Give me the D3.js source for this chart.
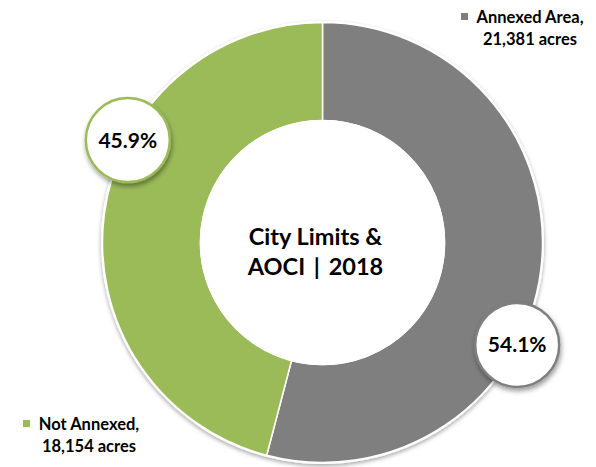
<!DOCTYPE html>
<html>
<head>
<meta charset="utf-8">
<script src="https://cdn.jsdelivr.net/npm/d3@7"></script>
<style>
  body { margin: 0; background: #fff; }
  svg { display: block; font-family: Lato, 'Open Sans', sans-serif; font-weight: bold; }
</style>
</head>
<body>
<svg width="596" height="467"></svg>
<script>
// data
const categories = ['Annexed Area', 'Not Annexed']
const acres = [21381, 18154]
const percents = ['54.1%', '45.9%']
const acreLabels = ['21,381 acres', '18,154 acres']
const colors = ['#7f7f7f', '#9bbb59']
const titleLines = ['City Limits &', 'AOCI | 2018']

let svg = d3.select('svg')
let cx = 322.5, cy = 242.5
let outerR = 220, innerR = 122

let defs = svg.append('defs')
let shadow = defs.append('filter').attr('id', 'shadow')
  .attr('x', '-20%').attr('y', '-20%').attr('width', '140%').attr('height', '140%')
shadow.append('feDropShadow').attr('dx', 0).attr('dy', 2).attr('stdDeviation', 2)
  .attr('flood-color', '#000').attr('flood-opacity', 0.35)
let shadow2 = defs.append('filter').attr('id', 'shadow2')
  .attr('x', '-30%').attr('y', '-30%').attr('width', '160%').attr('height', '160%')
shadow2.append('feDropShadow').attr('dx', 1).attr('dy', 3).attr('stdDeviation', 2.5)
  .attr('flood-color', '#000').attr('flood-opacity', 0.4)

let data = categories.map(function(c, i){
  return { name: c, value: acres[i], pct: percents[i], acres: acreLabels[i], color: colors[i] }
})

let pie = d3.pie().sort(null).value(function(d){ return d.value })
let arc = d3.arc().innerRadius(innerR).outerRadius(outerR)

let g = svg.append('g').attr('transform', 'translate(' + cx + ',' + cy + ')')

// white rim + shadow behind donut
g.append('circle').attr('r', outerR + 1.5).attr('fill', '#fff').attr('filter', 'url(#shadow)')
g.append('circle').attr('r', innerR).attr('fill', '#fff')

g.selectAll('.slice')
  .data(pie(data))
  .enter()
  .append('path')
    .attr('class', 'slice')
    .attr('d', arc)
    .attr('fill', function(d){ return d.data.color })
    .attr('stroke', '#fff')
    .attr('stroke-width', 1.5)

// inner rim
g.append('circle').attr('r', innerR).attr('fill', 'none').attr('stroke', '#fff').attr('stroke-width', 1.5)

// percentage bubbles sit on the outer edge, rotated a bit past the slice middle
let labelOffset = 20.4 * Math.PI / 180
let bubble = g.selectAll('.bubble')
  .data(pie(data))
  .enter()
  .append('g')
    .attr('class', 'bubble')
    .attr('transform', function(d){
      let a = (d.startAngle + d.endAngle) / 2 + labelOffset
      return 'translate(' + (Math.sin(a) * outerR) + ',' + (-Math.cos(a) * outerR) + ')'
    })

bubble.append('circle')
  .attr('r', 42)
  .attr('fill', '#fff')
  .attr('stroke', function(d){ return d.data.color })
  .attr('stroke-width', 2.5)
  .attr('filter', 'url(#shadow2)')

bubble.append('text')
  .attr('text-anchor', 'middle')
  .attr('dy', '0.36em')
  .attr('font-size', 21)
  .attr('fill', '#000')
  .text(function(d){ return d.data.pct })

// center title (sits a little left of the hole's centre, as in the original)
g.selectAll('.title')
  .data(titleLines)
  .enter()
  .append('text')
    .attr('class', 'title')
    .attr('text-anchor', 'middle')
    .attr('x', -7)
    .attr('y', function(d, i){ return 2 + i * 30 })
    .attr('font-size', 23.5)
    .attr('fill', '#000')
    .attr('word-spacing', function(d, i){ return i == 1 ? 3 : 0 })
    .text(function(d){ return d })

// legend labels
let legendPos = [{ x: 530, y: 22.5, sx: 461, sy: 13 }, { x: 89, y: 430, sx: 23, sy: 420 }]
let legend = svg.selectAll('.legend')
  .data(data)
  .enter()
  .append('g')
    .attr('class', 'legend')

legend.append('rect')
  .attr('x', function(d, i){ return legendPos[i].sx })
  .attr('y', function(d, i){ return legendPos[i].sy })
  .attr('width', 7).attr('height', 7)
  .attr('fill', function(d){ return d.color })

legend.append('text')
  .attr('text-anchor', 'middle')
  .attr('x', function(d, i){ return legendPos[i].x })
  .attr('y', function(d, i){ return legendPos[i].y })
  .attr('font-size', 16.5)
  .attr('fill', '#000')
  .text(function(d){ return d.name + ',' })

legend.append('text')
  .attr('text-anchor', 'middle')
  .attr('x', function(d, i){ return legendPos[i].x })
  .attr('y', function(d, i){ return legendPos[i].y + 22 })
  .attr('font-size', 16.5)
  .attr('fill', '#000')
  .text(function(d){ return d.acres })
</script>
</body>
</html>
